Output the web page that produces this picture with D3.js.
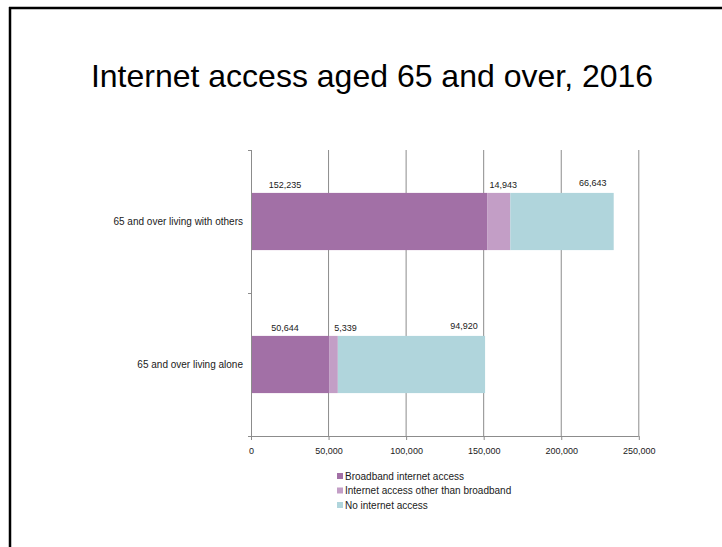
<!DOCTYPE html>
<html>
<head>
<meta charset="utf-8">
<script src="https://cdn.jsdelivr.net/npm/d3@7"></script>
<style>
  html, body { margin: 0; padding: 0; background: #fff; }
  svg { display: block; font-family: "Liberation Sans", Arial, sans-serif; }
</style>
</head>
<body>
<svg id="chart" width="722" height="547"></svg>
<script>
// Households aged 65 and over by internet access, 2016
const categories = ["65 and over living with others", "65 and over living alone"];
const seriesNames = ["Broadband internet access", "Internet access other than broadband", "No internet access"];
const broadband = [152235, 50644];
const otherAccess = [14943, 5339];
const noAccess = [66643, 94920];
const xTicks = [0, 50000, 100000, 150000, 200000, 250000];
const colors = ["#A270A6", "#C39EC6", "#B0D5DC"];

const svg = d3.select("#chart");

// Slide frame
svg.append("line").attr("x1", 9).attr("x2", 722).attr("y1", 8).attr("y2", 8)
  .attr("stroke", "#000").attr("stroke-width", 2.5);
svg.append("line").attr("x1", 10).attr("x2", 10).attr("y1", 7).attr("y2", 547)
  .attr("stroke", "#000").attr("stroke-width", 2.5);

// Title
svg.append("text").attr("x", 372).attr("y", 87).attr("text-anchor", "middle")
  .attr("font-size", 32).attr("fill", "#000")
  .text("Internet access aged 65 and over, 2016");

const plotLeft = 251, plotRight = 638.8, plotTop = 150, plotBottom = 436;
const x = d3.scaleLinear().domain([0, 250000]).range([plotLeft, plotRight]);
const y = d3.scaleBand().domain(categories).range([plotTop, plotBottom])
  .paddingInner(0.6).paddingOuter(0.3);

// Vertical gridlines
svg.append("g").selectAll("line").data(xTicks.slice(1)).join("line")
  .attr("x1", d => x(d)).attr("x2", d => x(d))
  .attr("y1", plotTop).attr("y2", plotBottom)
  .attr("stroke", "#8c8c8c").attr("stroke-width", 1);

// Stacked bars
const rows = categories.map((c, i) => ({
  cat: c, v: [broadband[i], otherAccess[i], noAccess[i]]
}));
const stacked = d3.stack().keys([0, 1, 2]).value((d, k) => d.v[k])(rows);

const barG = svg.append("g");
stacked.forEach((layer, k) => {
  barG.selectAll(null).data(layer).join("rect")
    .attr("x", d => x(d[0]))
    .attr("width", d => x(d[1]) - x(d[0]))
    .attr("y", d => y(d.data.cat))
    .attr("height", y.bandwidth())
    .attr("fill", colors[k]);
});

// Value labels above each segment
const fmt = d3.format(",");
const labG = svg.append("g").attr("font-size", 9).attr("fill", "#1a1a1a").attr("text-anchor", "middle");
stacked.forEach((layer, k) => {
  labG.selectAll(null).data(layer).join("text")
    .attr("x", d => k === 0 ? x(d[0]) + 34 : k === 1 ? x(d[0]) + 16 : x(d[1]) - 21)
    .attr("y", d => y(d.data.cat) - (k === 2 ? 7 : 5))
    .text(d => fmt(d.data.v[k]));
});

// Axes
const xAxis = svg.append("g").attr("transform", `translate(0,${plotBottom})`)
  .call(d3.axisBottom(x).tickValues(xTicks).tickFormat(fmt).tickSize(4).tickPadding(8));
xAxis.select(".domain").attr("stroke", "#8c8c8c").attr("d", `M${plotLeft - 3},0.5H${plotRight}`);
xAxis.selectAll(".tick line").attr("stroke", "#8c8c8c");
xAxis.selectAll(".tick text").attr("font-size", 9).attr("fill", "#1a1a1a")
  .attr("font-family", "Liberation Sans, Arial, sans-serif");

const yAxis = svg.append("g").attr("transform", `translate(${plotLeft},0)`);
yAxis.append("line").attr("x1", 0.5).attr("x2", 0.5).attr("y1", plotTop).attr("y2", plotBottom + 4)
  .attr("stroke", "#8c8c8c");
yAxis.selectAll(null).data([plotTop, (plotTop + plotBottom) / 2, plotBottom]).join("line")
  .attr("x1", -3).attr("x2", 0).attr("y1", d => d + 0.5).attr("y2", d => d + 0.5)
  .attr("stroke", "#8c8c8c");
yAxis.selectAll(null).data(categories).join("text")
  .attr("x", -8).attr("y", d => y(d) + y.bandwidth() / 2).attr("dy", "0.35em")
  .attr("text-anchor", "end").attr("font-size", 10).attr("fill", "#1a1a1a")
  .text(d => d);

// Legend
const legend = svg.append("g").attr("transform", "translate(337,476)");
const items = legend.selectAll("g").data(seriesNames).join("g")
  .attr("transform", (d, i) => `translate(0,${i * 14.5})`);
items.append("rect").attr("x", 0).attr("y", -3).attr("width", 6).attr("height", 6)
  .attr("fill", (d, i) => colors[i]);
items.append("text").attr("x", 8).attr("dy", "0.35em").attr("font-size", 10)
  .attr("fill", "#1a1a1a").text(d => d);
</script>
</body>
</html>
